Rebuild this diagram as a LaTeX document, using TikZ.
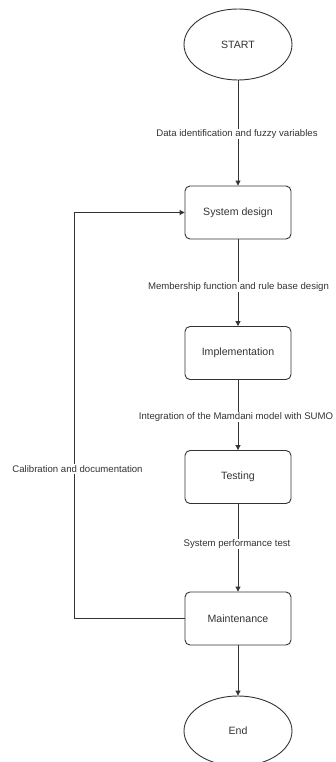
\documentclass[tikz,border=0pt]{standalone}
\usepackage{fontspec}
\setmainfont{Liberation Sans}
\usetikzlibrary{shapes.geometric,arrows.meta}
\definecolor{ln}{HTML}{333333}
\begin{document}
\begin{tikzpicture}[x=1pt,y=-1pt,
  every node/.style={text=ln},
  term/.style={ellipse,draw=ln,line width=0.9pt,minimum width=108pt,minimum height=71pt,inner sep=0pt,font=\fontsize{10.6}{12}\selectfont},
  stepbox/.style={rectangle,rounded corners=5pt,draw=ln,line width=0.9pt,minimum width=106pt,minimum height=53pt,inner sep=0pt,font=\fontsize{10.6}{12}\selectfont},
  lbl/.style={fill=white,inner sep=1pt,font=\fontsize{9.6}{11}\selectfont},
  conn/.style={draw=ln,line width=0.9pt,-{Triangle[length=5pt,width=5pt]}}]
\useasboundingbox (0,0) rectangle (336,762);
\node[term] (start) at (238,44.5) {START};
\node[stepbox] (sys) at (238,212.5) {System design};
\node[stepbox] (impl) at (238,353) {Implementation};
\node[stepbox] (test) at (238,477) {Testing};
\node[stepbox] (maint) at (238,618.5) {Maintenance};
\node[term,minimum height=70pt] (end) at (238,731) {End};
\coordinate (fb) at (74,618.5);
\draw[conn] (start) -- (sys);
\draw[conn] (sys) -- (impl);
\draw[conn] (impl) -- (test);
\draw[conn] (test) -- (maint);
\draw[conn] (maint) -- (end);
\draw[conn] (maint.west) -- (fb) |- (sys.west);
\node[lbl] (l1) at (237,134) {Data identification and fuzzy variables};
\node[lbl] (l2) at (238.5,287) {Membership function and rule base design};
\node[lbl] (l3) at (236,417) {Integration of the Mamdani model with SUMO};
\node[lbl] (l4) at (237,544) {System performance test};
\node[lbl] (l5) at (77.5,469) {Calibration and documentation};
\end{tikzpicture}
\end{document}
